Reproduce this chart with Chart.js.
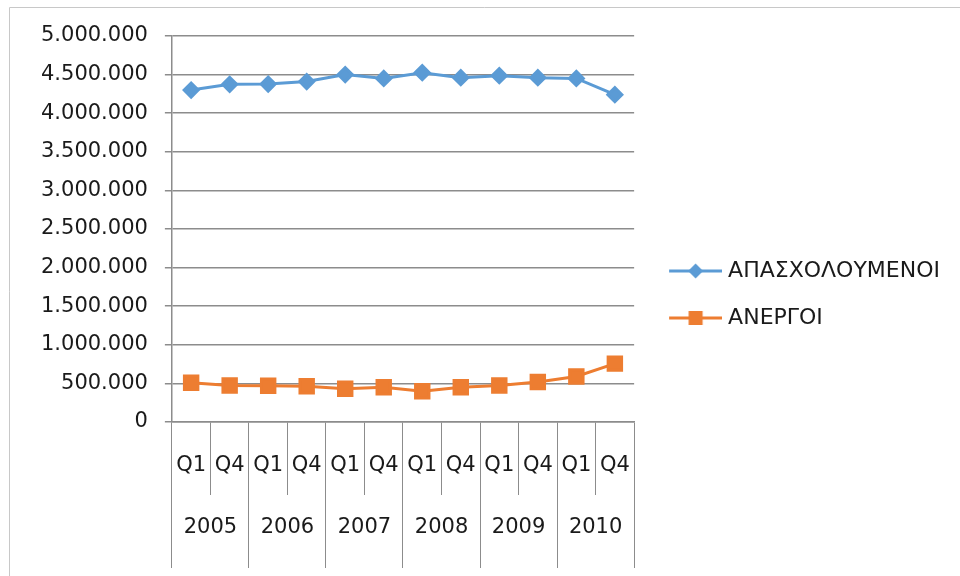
<!DOCTYPE html>
<html>
<head>
<meta charset="utf-8">
<script src="https://cdn.jsdelivr.net/npm/chart.js@4"></script>
<style>
  html, body { margin: 0; padding: 0; background: #fff; }
  #wrap { width: 960px; height: 576px; }
</style>
</head>
<body>
<div id="wrap"><canvas id="chart" width="960" height="576"></canvas></div>
<script>
// quarters shown on the first row of the x axis, years on the second
const quarters = ['Q1', 'Q4', 'Q1', 'Q4', 'Q1', 'Q4', 'Q1', 'Q4', 'Q1', 'Q4', 'Q1', 'Q4'];
const years = ['2005', '2006', '2007', '2008', '2009', '2010'];

const employed = [4300000, 4374000, 4378000, 4410000, 4500000, 4450000, 4525000, 4460000, 4486000, 4460000, 4450000, 4240000];
const unemployed = [509000, 473000, 469000, 464000, 430000, 451000, 398000, 451000, 473000, 517000, 589000, 756000];

const yTicks = { min: 0, max: 5000000, step: 500000 };

const BLUE = '#5B9BD5';
const ORANGE = '#ED7D31';
const GRID = '#8c8c8c';
const TEXT = '#1a1a1a';
const FONT = "'DejaVu Sans', sans-serif";

// legend symbol: a short line with the marker in the middle
function legendIcon(color, shape) {
    const c = document.createElement('canvas');
    c.width = 68; c.height = 18;
    const g = c.getContext('2d');
    g.strokeStyle = color;
    g.lineWidth = 3;
    g.beginPath();
    g.moveTo(15, 9);
    g.lineTo(68, 9);
    g.stroke();
    g.fillStyle = color;
    const cx = 41.5;
    if (shape === 'diamond') {
        g.beginPath();
        g.moveTo(cx, 1.5); g.lineTo(cx + 7.5, 9); g.lineTo(cx, 16.5); g.lineTo(cx - 7.5, 9);
        g.closePath();
        g.fill();
    } else {
        g.fillRect(cx - 7, 2, 14, 14);
    }
    return c;
}
const icons = [legendIcon(BLUE, 'diamond'), legendIcon(ORANGE, 'square')];

// thin frame: only top and left edges show in the picture
const frame = {
    id: 'frame',
    beforeDraw(chart) {
        const ctx = chart.ctx;
        ctx.save();
        ctx.strokeStyle = '#c8c8c8';
        ctx.lineWidth = 1;
        ctx.beginPath();
        ctx.moveTo(9.5, 576);
        ctx.lineTo(9.5, 7.5);
        ctx.lineTo(960, 7.5);
        ctx.stroke();
        ctx.restore();
    }
};

const ctx = document.getElementById('chart').getContext('2d');

new Chart(ctx, {
    type: 'line',
    data: {
        labels: quarters,
        datasets: [
            {
                label: 'ΑΠΑΣΧΟΛΟΥΜΕΝΟΙ',
                data: employed,
                borderColor: BLUE,
                backgroundColor: BLUE,
                borderWidth: 3,
                pointStyle: 'rectRot',
                pointRadius: 7,
                pointHoverRadius: 7,
                tension: 0,
                xAxisID: 'x'
            },
            {
                label: 'ΑΝΕΡΓΟΙ',
                data: unemployed,
                borderColor: ORANGE,
                backgroundColor: ORANGE,
                borderWidth: 3,
                pointStyle: 'rect',
                pointRadius: 9.5,
                pointHoverRadius: 9.5,
                tension: 0,
                xAxisID: 'x'
            }
        ]
    },
    options: {
        responsive: false,
        animation: false,
        layout: { padding: { left: 24, top: 36, right: 10, bottom: 23 } },
        plugins: {
            tooltip: { enabled: false },
            legend: {
                position: 'right',
                maxWidth: 340,
                labels: {
                    usePointStyle: true,
                    pointStyleWidth: 58,
                    padding: 25,
                    color: TEXT,
                    font: { size: 22, family: FONT },
                    generateLabels(chart) {
                        const items = Chart.defaults.plugins.legend.labels.generateLabels(chart);
                        items.forEach((it, i) => { it.pointStyle = icons[i]; });
                        return items;
                    }
                }
            }
        },
        scales: {
            x: {
                position: 'bottom',
                offset: true,
                afterFit(scale) { scale.height = 73; },
                grid: { offset: true, drawOnChartArea: false, tickLength: 73, color: GRID, lineWidth: 1 },
                border: { color: GRID, width: 1.5 },
                ticks: { color: TEXT, font: { size: 21, family: FONT }, padding: -42, maxRotation: 0, autoSkip: false }
            },
            x2: {
                type: 'category',
                labels: years,
                position: 'bottom',
                offset: true,
                // the year row is shorter than its separator lines so the legend sits a bit higher
                afterFit(scale) { scale.height = 58; },
                grid: { offset: true, drawOnChartArea: false, tickLength: 73, color: GRID, lineWidth: 1 },
                border: { display: false },
                ticks: { color: TEXT, font: { size: 21, family: FONT }, padding: -53, maxRotation: 0, autoSkip: false }
            },
            y: {
                min: yTicks.min,
                max: yTicks.max,
                ticks: {
                    stepSize: yTicks.step,
                    color: TEXT,
                    padding: 17,
                    font: { size: 21, family: FONT },
                    callback: v => v === 0 ? '0' : v.toLocaleString('de-DE')
                },
                grid: { color: GRID, lineWidth: 1.5, tickLength: 7 },
                border: { color: GRID, width: 1.5 }
            }
        }
    },
    plugins: [frame]
});
</script>
</body>
</html>
